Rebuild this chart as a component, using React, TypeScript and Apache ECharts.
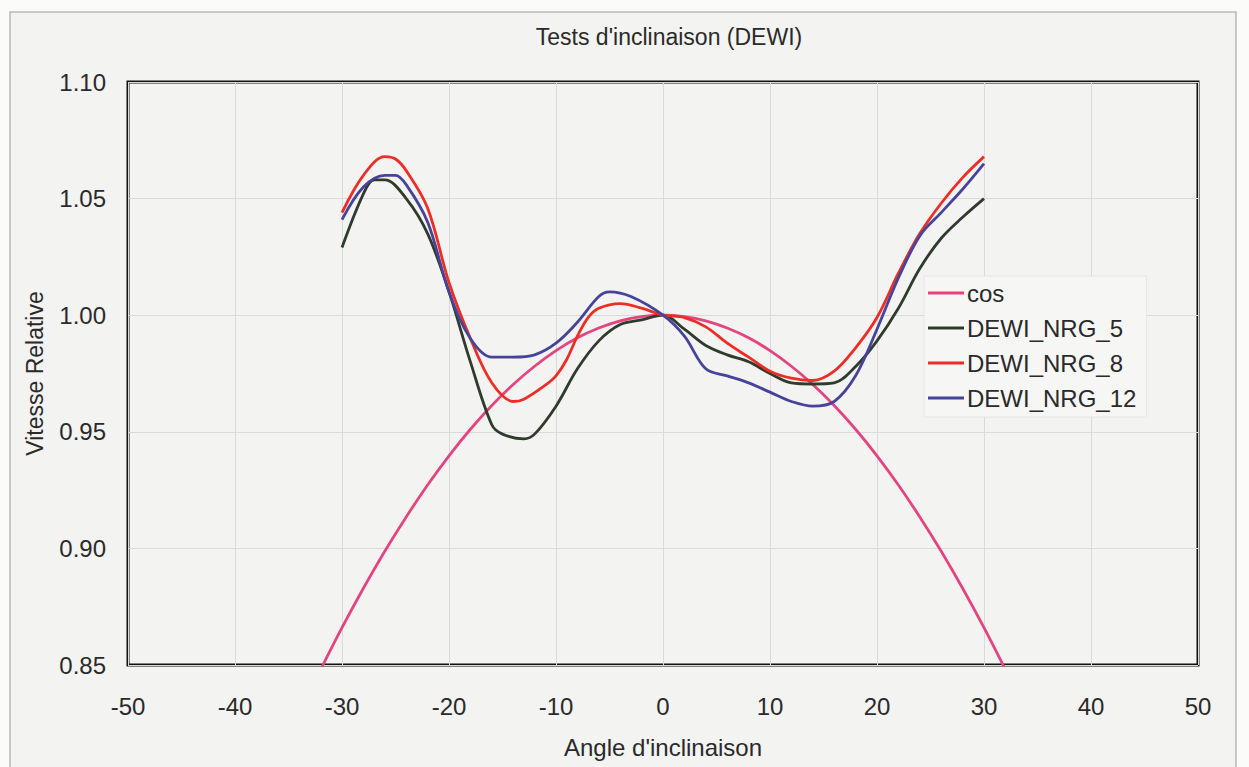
import React, { useEffect, useRef } from "react";
import * as echarts from "echarts";

const xTicks = [-50, -40, -30, -20, -10, 0, 10, 20, 30, 40, 50];
const yTicks = [0.85, 0.9, 0.95, 1.0, 1.05, 1.1];

const cosX = [-32, -30, -28, -26, -24, -22, -20, -18, -16, -14, -12, -10, -8, -6, -4, -2, 0, 2, 4, 6, 8, 10, 12, 14, 16, 18, 20, 22, 24, 26, 28, 30, 32];
const cosY = [0.848, 0.866, 0.8829, 0.8988, 0.9135, 0.9272, 0.9397, 0.9511, 0.9613, 0.9703, 0.9781, 0.9848, 0.9903, 0.9945, 0.9976, 0.9994, 1.0, 0.9994, 0.9976, 0.9945, 0.9903, 0.9848, 0.9781, 0.9703, 0.9613, 0.9511, 0.9397, 0.9272, 0.9135, 0.8988, 0.8829, 0.866, 0.848];

const n5X = [-30, -28, -27, -26, -24, -22, -20, -18, -16, -15, -13, -12, -10, -8, -6, -4, -2, 0, 2, 4, 6, 8, 10, 12, 14, 16, 18, 20, 22, 24, 26, 28, 30];
const n5Y = [1.029, 1.052, 1.058, 1.058, 1.05, 1.035, 1.01, 0.98, 0.953, 0.949, 0.947, 0.949, 0.961, 0.977, 0.989, 0.996, 0.998, 1.0, 0.994, 0.987, 0.983, 0.98, 0.975, 0.971, 0.9705, 0.971, 0.978, 0.989, 1.003, 1.02, 1.033, 1.042, 1.05];

const n8X = [-30, -28, -26, -25, -24, -22, -20, -18, -16, -14, -13, -11, -10, -9, -8, -7, -6, -4, -2, 0, 2, 4, 6, 8, 10, 12, 14, 16, 18, 20, 22, 24, 26, 28, 30];
const n8Y = [1.044, 1.06, 1.068, 1.067, 1.062, 1.046, 1.014, 0.99, 0.971, 0.963, 0.964, 0.97, 0.974, 0.981, 0.991, 0.999, 1.003, 1.005, 1.003, 1.0, 0.999, 0.995, 0.988, 0.982, 0.976, 0.973, 0.972, 0.976, 0.986, 0.999, 1.018, 1.035, 1.048, 1.059, 1.068];

const n12X = [-30, -28, -26, -25, -24, -22, -20, -18, -16, -14, -12, -10, -8, -6, -5, -3, 0, 2, 4, 6, 8, 10, 12, 14, 16, 18, 20, 22, 24, 26, 28, 30];
const n12Y = [1.041, 1.055, 1.06, 1.06, 1.056, 1.04, 1.01, 0.99, 0.982, 0.982, 0.983, 0.988, 0.997, 1.008, 1.01, 1.008, 1.0, 0.991, 0.977, 0.974, 0.971, 0.967, 0.963, 0.961, 0.963, 0.974, 0.994, 1.016, 1.034, 1.044, 1.054, 1.065];

const seriesNames = ["cos", "DEWI_NRG_5", "DEWI_NRG_8", "DEWI_NRG_12"];
const seriesColors = ["#e5457f", "#2f3b2c", "#ee2e26", "#45449a"];

const zip = (xs: number[], ys: number[]) => xs.map((x, i) => [x, ys[i]]);

export default function App() {
  const ref = useRef<HTMLDivElement>(null);
  useEffect(() => {
    if (!ref.current) return;
    const chart = echarts.init(ref.current, undefined, { renderer: "svg" });
    const font = "Liberation Sans, Arial, sans-serif";
    const textColor = "#2a2a2a";
    const datas = [zip(cosX, cosY), zip(n5X, n5Y), zip(n8X, n8Y), zip(n12X, n12Y)];
    chart.setOption({
      animation: false,
      backgroundColor: "#fbfbfa",
      graphic: [
        {
          type: "rect",
          shape: { x: 10, y: 12, width: 1226, height: 760 },
          style: { fill: "#f3f3f1", stroke: "#b9b9b9", lineWidth: 1.5 },
          z: -10,
        },
      ],
      title: {
        text: "Tests d'inclinaison (DEWI)",
        left: 664,
        top: 20,
        textAlign: "center",
        textStyle: { fontFamily: font, fontSize: 23, fontWeight: "normal", color: textColor },
      },
      legend: {
        orient: "vertical",
        left: 924,
        top: 276,
        icon: "rect",
        itemWidth: 36,
        itemHeight: 3,
        itemGap: 9,
        padding: [4, 10, 6, 4],
        backgroundColor: "#f6f6f5",
        borderColor: "#e6e6e6",
        borderWidth: 1,
        data: seriesNames,
        textStyle: { fontFamily: font, fontSize: 24, color: textColor, lineHeight: 26, padding: [0, 0, 0, -2] },
      },
      grid: {
        left: 128,
        top: 82,
        width: 1070,
        height: 583,
        show: true,
        backgroundColor: "#f3f3f1",
        borderColor: "#111",
        borderWidth: 3,
        containLabel: false,
      },
      xAxis: {
        type: "value",
        min: xTicks[0],
        max: xTicks[xTicks.length - 1],
        interval: 10,
        name: "Angle d'inclinaison",
        nameLocation: "middle",
        nameGap: 70,
        nameTextStyle: { fontFamily: font, fontSize: 24, color: textColor },
        axisLine: { show: false },
        axisTick: { show: false },
        axisLabel: { fontFamily: font, fontSize: 24, color: textColor, margin: 29 },
        splitLine: { show: true, lineStyle: { color: "#dadada", width: 1 } },
      },
      yAxis: {
        type: "value",
        min: yTicks[0],
        max: yTicks[yTicks.length - 1],
        interval: 0.05,
        name: "Vitesse Relative",
        nameLocation: "middle",
        nameGap: 82,
        nameTextStyle: { fontFamily: font, fontSize: 23, color: textColor },
        axisLine: { show: false },
        axisTick: { show: false },
        axisLabel: {
          fontFamily: font,
          fontSize: 24,
          color: textColor,
          margin: 22,
          formatter: (v: number) => v.toFixed(2),
        },
        splitLine: { show: true, lineStyle: { color: "#dadada", width: 1 } },
      },
      series: seriesNames.map((name, i) => ({
        name,
        type: "line",
        data: datas[i],
        smooth: 0.35,
        showSymbol: false,
        symbol: "none",
        clip: true,
        color: seriesColors[i],
        lineStyle: { color: seriesColors[i], width: 2.8 },
        z: i === 0 ? 2 : 3 + i,
      })),
    });
    return () => chart.dispose();
  }, []);
  return <div ref={ref} style={{ position: "fixed", left: 0, top: 0, width: 1249, height: 767 }} />;
}
